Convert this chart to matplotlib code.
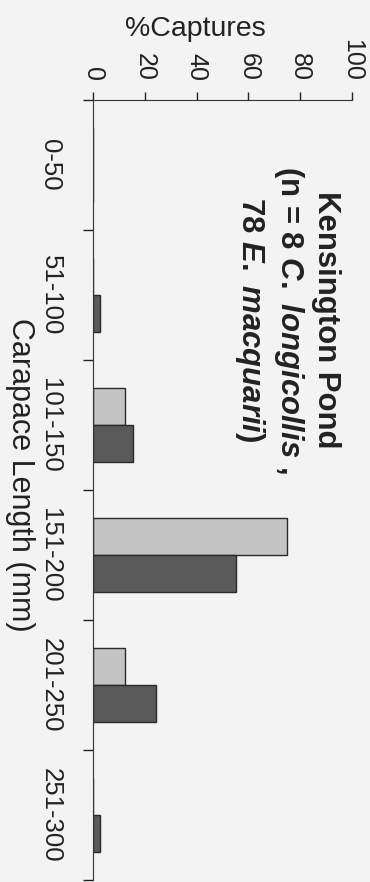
import matplotlib
matplotlib.use("Agg")
import matplotlib.pyplot as plt
import numpy as np

plt.rcParams['font.family'] = ['Liberation Sans', 'DejaVu Sans']
plt.rcParams['mathtext.fontset'] = 'custom'
plt.rcParams['mathtext.it'] = 'Liberation Sans:italic:bold'
plt.rcParams['mathtext.rm'] = 'Liberation Sans:bold'

categories = ['0-50', '51-100', '101-150', '151-200', '201-250', '251-300']
longicollis = [0, 0, 12.5, 75.0, 12.5, 0]        # light bars, n = 8
macquarii = [0, 2.6, 15.4, 55.1, 24.4, 2.6]      # dark bars, n = 78
xticks = [0, 20, 40, 60, 80, 100]

bg = '#f3f3f3'
fig = plt.figure(figsize=(3.70, 8.82), dpi=100, facecolor=bg)
ax = fig.add_axes([93 / 370, 1 - 880 / 882, 259 / 370, 780 / 882])
ax.set_facecolor(bg)

pos = np.arange(len(categories))
h = 0.285
ax.barh(pos - h / 2, longicollis, height=h, color='#c4c4c4', edgecolor='#2a2a2a', linewidth=1.0)
ax.barh(pos + h / 2, macquarii, height=h, color='#5a5a5a', edgecolor='#2a2a2a', linewidth=1.0)

ax.set_xlim(0, 100)
ax.set_ylim(len(categories) - 0.5, -0.5)

ax.xaxis.tick_top()
ax.xaxis.set_label_position('top')
ax.set_xticks(xticks)
ax.set_xticklabels([str(v) for v in xticks], rotation=-90, fontsize=18)
ax.tick_params(axis='x', direction='out', length=6, width=1, pad=8, colors='#222222')

# boundaries get tick marks, centres get the labels
ax.set_yticks(np.arange(len(categories) + 1) - 0.5)
ax.set_yticklabels([])
ax.set_yticks(pos, minor=True)
ax.set_yticklabels(categories, minor=True, rotation=-90, fontsize=18.5, va='center')
ax.tick_params(axis='y', which='major', direction='out', length=7, width=1, colors='#222222')
ax.tick_params(axis='y', which='minor', length=0, pad=22, colors='#222222')

for s in ['right', 'bottom']:
    ax.spines[s].set_visible(False)
for s in ['left', 'top']:
    ax.spines[s].set_color('#333333')

ax.set_xlabel('%Captures', fontsize=20.5, color='#222222')
ax.xaxis.set_label_coords(0.394, 1.082)
ax.set_ylabel('Carapace Length (mm)', fontsize=22, rotation=-90, color='#222222', va='center')
ax.yaxis.set_label_coords(-0.282, 0.52)

ax.text(0.75, 0.718, 'Kensington Pond\n(n = 8 $C.\\ longicollis$ ,\n78 $E.\\ macquarii$)',
        transform=ax.transAxes, rotation=-90, fontsize=22.4, fontweight='bold',
        ha='center', va='center', multialignment='center', color='#222222', linespacing=1.2)

fig.savefig('out.png', dpi=100, facecolor=bg)
